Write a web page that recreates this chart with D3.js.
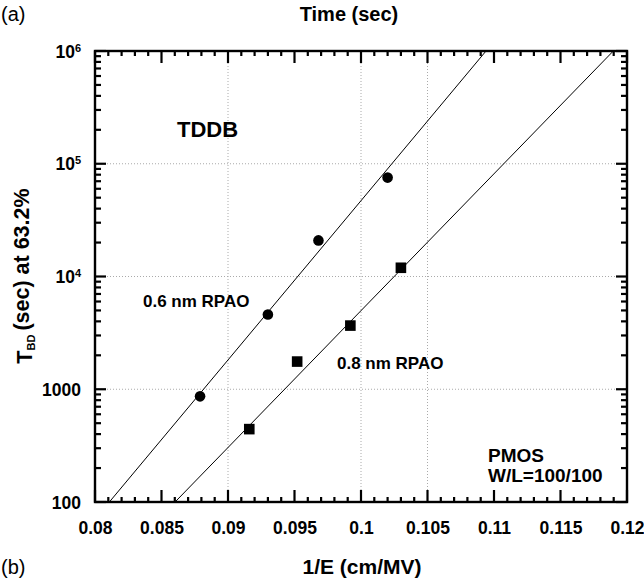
<!DOCTYPE html>
<html>
<head>
<meta charset="utf-8">
<script src="https://cdn.jsdelivr.net/npm/d3@7"></script>
<style>
 body { margin: 0; background: #fff; }
 svg text { font-family: "Liberation Sans", Arial, sans-serif; fill: #000; }
</style>
</head>
<body>
<div id="chart"></div>
<script>
// data
var x06 = [0.0879, 0.0930, 0.0968, 0.1020];   // 0.6 nm RPAO (circles)
var t06 = [865, 4600, 20900, 75400];
var x08 = [0.0916, 0.0952, 0.0992, 0.1030];   // 0.8 nm RPAO (squares)
var t08 = [443, 1760, 3670, 11950];
// fitted lines, end points
var fit06X = [0.08108, 0.10940];
var fit06T = [100, 1e6];
var fit08X = [0.08602, 0.11897];
var fit08T = [100, 1e6];

var xMajor = [0.08, 0.085, 0.09, 0.095, 0.1, 0.105, 0.11, 0.115, 0.12];
var xLabels = ["0.08", "0.085", "0.09", "0.095", "0.1", "0.105", "0.11", "0.115", "0.12"];
var yMajor = [100, 1000, 1e4, 1e5, 1e6];
var yLabels = [["100", ""], ["1000", ""], ["10", "4"], ["10", "5"], ["10", "6"]];
var gridX = [0.09, 0.1, 0.105];
var gridY = [1000, 1e4, 1e5];

//svg dimensions
var svgWidth = 644;
var svgHeight = 581;
var margin = {top: 51, right: 17, bottom: 79, left: 95};
var width = svgWidth - margin.left - margin.right;
var height = svgHeight - margin.top - margin.bottom;

var svg = d3.select("#chart")
 .append("svg")
 .attr("width", svgWidth)
 .attr("height", svgHeight);

var chartGroup = svg.append("g")
 .attr("transform", `translate(${margin.left}, ${margin.top})`);

var x = d3.scaleLinear().domain([0.08, 0.12]).range([0, width]);
var y = d3.scaleLog().domain([100, 1e6]).range([height, 0]);

// minor tick values
var xMinor = d3.range(0, 41).map(i => 0.08 + i * 0.001).filter((v, i) => i % 5 !== 0);
var yMinor = [];
[100, 1000, 1e4, 1e5].forEach(function(d) {
 for (var k = 2; k <= 9; k++) yMinor.push(d * k);
});

// grid lines (dotted)
chartGroup.selectAll(".gx").data(gridX).enter().append("line")
 .attr("x1", d => x(d)).attr("x2", d => x(d))
 .attr("y1", 0).attr("y2", height)
 .attr("stroke", "#aaa").attr("stroke-width", 1).attr("stroke-dasharray", "1,2");
chartGroup.selectAll(".gy").data(gridY).enter().append("line")
 .attr("x1", 0).attr("x2", width)
 .attr("y1", d => y(d)).attr("y2", d => y(d))
 .attr("stroke", "#aaa").attr("stroke-width", 1).attr("stroke-dasharray", "1,2");

// tick labels through d3 axes
var bottomAxis = d3.axisBottom(x).tickValues(xMajor).tickSize(0).tickPadding(19)
 .tickFormat((d, i) => xLabels[i]);
var bottomG = chartGroup.append("g")
 .attr("transform", `translate(0, ${height})`)
 .call(bottomAxis);
bottomG.select(".domain").remove();
bottomG.selectAll("text").attr("font-size", "17.5px").attr("font-weight", "bold").attr("dy", "0.72em");

var leftAxis = d3.axisLeft(y).tickValues(yMajor).tickSize(0).tickPadding(14).tickFormat("");
var leftG = chartGroup.append("g").call(leftAxis);
leftG.select(".domain").remove();
leftG.selectAll(".tick text")
 .attr("font-size", "17.5px").attr("font-weight", "bold")
 .attr("dy", "0.35em")
 .each(function(d, i) {
   var t = d3.select(this);
   t.append("tspan").text(yLabels[i][0]);
   if (yLabels[i][1]) {
     t.append("tspan").attr("dy", "-0.55em").attr("font-size", "11px").text(yLabels[i][1]);
   }
 });

// frame
chartGroup.append("rect")
 .attr("x", 0).attr("y", 0).attr("width", width).attr("height", height)
 .attr("fill", "none").attr("stroke", "#000").attr("stroke-width", 2.4);

// fitted lines
var fitLine = d3.line().x(d => x(d[0])).y(d => y(d[1]));
[[fit06X, fit06T], [fit08X, fit08T]].forEach(function(f) {
 chartGroup.append("path")
   .datum(f[0].map((v, i) => [v, f[1][i]]))
   .attr("d", fitLine)
   .attr("fill", "none").attr("stroke", "#000").attr("stroke-width", 1);
});

// markers
chartGroup.selectAll(".c06").data(x06).enter().append("circle")
 .attr("cx", d => x(d))
 .attr("cy", (d, i) => y(t06[i]))
 .attr("r", 5.3)
 .attr("fill", "#000");

chartGroup.selectAll(".s08").data(x08).enter().append("rect")
 .attr("x", d => x(d) - 5.3)
 .attr("y", (d, i) => y(t08[i]) - 5.3)
 .attr("width", 10.6).attr("height", 10.6)
 .attr("fill", "#000");

// inward ticks on all four sides, drawn last
var tickG = svg.append("g");
function addTicks(vals, len, vertical) {
 var sides = vertical ? [[0, len], [width, width - len]] : [[height, height - len], [0, len]];
 sides.forEach(function(s) {
   tickG.selectAll(null).data(vals).enter().append("line")
     .attr("x1", d => margin.left + (vertical ? s[0] : x(d)))
     .attr("x2", d => margin.left + (vertical ? s[1] : x(d)))
     .attr("y1", d => margin.top + (vertical ? y(d) : s[0]))
     .attr("y2", d => margin.top + (vertical ? y(d) : s[1]))
     .attr("stroke", "#000")
     .attr("stroke-width", 2.2);
 });
}
addTicks(xMajor, 12, false);
addTicks(xMinor, 5, false);
addTicks(yMajor, 11, true);
addTicks(yMinor, 6, true);

// annotations
function note(txt, px, py, size) {
 svg.append("text")
   .attr("x", px).attr("y", py)
   .attr("font-size", size + "px").attr("font-weight", "bold")
   .text(txt);
}
note("TDDB", 177, 137, 22);
note("0.6 nm RPAO", 143, 307, 17);
note("0.8 nm RPAO", 337, 369, 17);
note("PMOS", 488, 462, 19);
note("W/L=100/100", 488, 482, 19);

// titles
svg.append("text")
 .attr("x", 349).attr("y", 21)
 .attr("text-anchor", "middle")
 .attr("font-size", "20px").attr("font-weight", "bold")
 .text("Time (sec)");

svg.append("text")
 .attr("x", 362).attr("y", 574)
 .attr("text-anchor", "middle")
 .attr("font-size", "21px").attr("font-weight", "bold")
 .text("1/E (cm/MV)");

svg.append("text").attr("x", 1).attr("y", 21).attr("font-size", "20px").text("(a)");
svg.append("text").attr("x", 1).attr("y", 574).attr("font-size", "20px").text("(b)");

var yTitle = svg.append("text")
 .attr("transform", "translate(32, 276) rotate(-90)")
 .attr("text-anchor", "middle")
 .attr("font-size", "21.5px").attr("font-weight", "bold");
yTitle.append("tspan").text("T");
yTitle.append("tspan").attr("dy", "0.3em").attr("font-size", "11px").text("BD");
yTitle.append("tspan").attr("dy", "-0.3em").attr("dx", "4").text("(sec) at 63.2%");
</script>
</body>
</html>
